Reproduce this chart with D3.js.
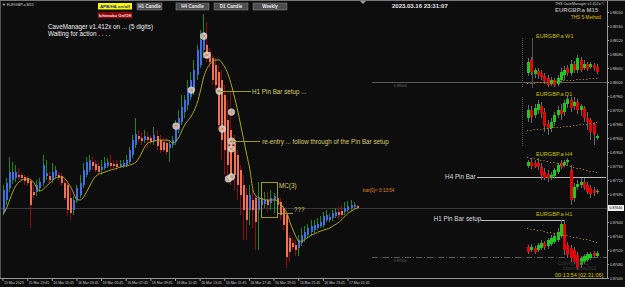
<!DOCTYPE html>
<html>
<head>
<meta charset="utf-8">
<script src="https://cdn.jsdelivr.net/npm/d3@7"></script>
<style>
  body { margin: 0; background: #0d0d0d; }
  svg { display: block; font-family: "Liberation Sans", Arial, sans-serif; }
</style>
</head>
<body>
<svg id="chart" width="625" height="287"></svg>
<script>
// ---- main chart data (EURGBP.a M15, one entry per bar) ----
var timeLabels = ["15 Mar 2023", "15 Mar 23:45", "16 Mar 01:45", "16 Mar 03:45", "16 Mar 05:45",
    "16 Mar 07:45", "16 Mar 09:45", "16 Mar 11:45", "16 Mar 13:45", "16 Mar 15:45",
    "16 Mar 17:45", "16 Mar 19:45", "16 Mar 21:45", "16 Mar 23:45", "17 Mar 01:45"];
var timeLabelBars = [0, 8, 16, 24, 32, 40, 48, 56, 64, 72, 80, 88, 96, 104, 112];

var priceTicks = [0.88200, 0.88160, 0.88120, 0.88080, 0.88040, 0.88000, 0.87960, 0.87920, 0.87880,
    0.87840, 0.87800, 0.87760, 0.87720, 0.87680, 0.87600, 0.87560, 0.87520, 0.87480, 0.87440];
var bidPrice = 0.87640;

var opens = [0.87629, 0.87663, 0.87697, 0.87720, 0.87726, 0.87734, 0.87734, 0.87729, 0.87726, 0.87717,
    0.87686, 0.87686, 0.87697, 0.87711, 0.87731, 0.87731, 0.87720, 0.87731, 0.87734, 0.87731,
    0.87711, 0.87706, 0.87669, 0.87634, 0.87663, 0.87677, 0.87706, 0.87734, 0.87749, 0.87771,
    0.87766, 0.87760, 0.87749, 0.87754, 0.87760, 0.87769, 0.87766, 0.87766, 0.87760, 0.87760,
    0.87763, 0.87771, 0.87791, 0.87820, 0.87846, 0.87840, 0.87834, 0.87843, 0.87840, 0.87831,
    0.87846, 0.87834, 0.87829, 0.87826, 0.87811, 0.87820, 0.87829, 0.87863, 0.87886, 0.87914,
    0.87934, 0.87957, 0.87977, 0.88020, 0.88049, 0.88091, 0.88106, 0.88086, 0.88069, 0.88049,
    0.88029, 0.88006, 0.87963, 0.87891, 0.87863, 0.87834, 0.87791, 0.87749, 0.87706, 0.87677,
    0.87634, 0.87663, 0.87669, 0.87634, 0.87649, 0.87651, 0.87663, 0.87654, 0.87663, 0.87669,
    0.87657, 0.87640, 0.87620, 0.87554, 0.87540, 0.87534, 0.87526, 0.87540, 0.87554, 0.87563,
    0.87571, 0.87577, 0.87583, 0.87589, 0.87591, 0.87606, 0.87606, 0.87611, 0.87617, 0.87629,
    0.87631, 0.87629, 0.87634, 0.87640, 0.87643, 0.87646];
var highs = [0.87706, 0.87726, 0.87786, 0.87771, 0.87763, 0.87754, 0.87740, 0.87734, 0.87731, 0.87720,
    0.87706, 0.87720, 0.87726, 0.87791, 0.87777, 0.87743, 0.87769, 0.87760, 0.87743, 0.87740,
    0.87720, 0.87711, 0.87691, 0.87674, 0.87706, 0.87734, 0.87769, 0.87786, 0.87791, 0.87786,
    0.87777, 0.87771, 0.87777, 0.87786, 0.87783, 0.87791, 0.87777, 0.87777, 0.87777, 0.87777,
    0.87791, 0.87814, 0.87849, 0.87897, 0.87863, 0.87854, 0.87863, 0.87857, 0.87849, 0.87871,
    0.87863, 0.87849, 0.87840, 0.87840, 0.87834, 0.87846, 0.87891, 0.87920, 0.87963, 0.87963,
    0.88006, 0.88029, 0.88063, 0.88106, 0.88149, 0.88194, 0.88171, 0.88097, 0.88077, 0.88069,
    0.88049, 0.88034, 0.87991, 0.87949, 0.87977, 0.87849, 0.87806, 0.87763, 0.87734, 0.87697,
    0.87706, 0.87691, 0.87677, 0.87714, 0.87706, 0.87686, 0.87686, 0.87691, 0.87683, 0.87677,
    0.87669, 0.87649, 0.87629, 0.87563, 0.87554, 0.87549, 0.87563, 0.87583, 0.87589, 0.87594,
    0.87606, 0.87606, 0.87611, 0.87617, 0.87629, 0.87634, 0.87623, 0.87634, 0.87640, 0.87643,
    0.87649, 0.87657, 0.87660, 0.87663, 0.87657, 0.87649];
var lows = [0.87620, 0.87649, 0.87686, 0.87709, 0.87714, 0.87720, 0.87717, 0.87706, 0.87703, 0.87583,
    0.87669, 0.87674, 0.87686, 0.87703, 0.87720, 0.87711, 0.87711, 0.87726, 0.87720, 0.87703,
    0.87663, 0.87617, 0.87606, 0.87620, 0.87654, 0.87669, 0.87697, 0.87729, 0.87743, 0.87749,
    0.87743, 0.87734, 0.87734, 0.87749, 0.87754, 0.87751, 0.87754, 0.87749, 0.87754, 0.87754,
    0.87757, 0.87766, 0.87783, 0.87811, 0.87829, 0.87820, 0.87826, 0.87811, 0.87820, 0.87820,
    0.87806, 0.87797, 0.87800, 0.87791, 0.87771, 0.87811, 0.87820, 0.87854, 0.87877, 0.87897,
    0.87920, 0.87949, 0.87963, 0.88006, 0.88040, 0.88069, 0.88057, 0.88040, 0.87991, 0.87977,
    0.87863, 0.87777, 0.87734, 0.87720, 0.87706, 0.87691, 0.87663, 0.87620, 0.87549, 0.87549,
    0.87591, 0.87583, 0.87520, 0.87520, 0.87634, 0.87640, 0.87629, 0.87634, 0.87626, 0.87634,
    0.87606, 0.87577, 0.87469, 0.87486, 0.87520, 0.87503, 0.87503, 0.87531, 0.87543, 0.87554,
    0.87560, 0.87569, 0.87577, 0.87583, 0.87583, 0.87600, 0.87600, 0.87603, 0.87611, 0.87609,
    0.87611, 0.87620, 0.87629, 0.87631, 0.87637, 0.87634];
var closes = [0.87691, 0.87711, 0.87743, 0.87743, 0.87743, 0.87729, 0.87726, 0.87717, 0.87711, 0.87649,
    0.87677, 0.87706, 0.87714, 0.87763, 0.87740, 0.87720, 0.87743, 0.87749, 0.87726, 0.87711,
    0.87669, 0.87634, 0.87626, 0.87663, 0.87697, 0.87711, 0.87749, 0.87771, 0.87777, 0.87760,
    0.87749, 0.87743, 0.87757, 0.87769, 0.87771, 0.87760, 0.87760, 0.87757, 0.87766, 0.87769,
    0.87777, 0.87806, 0.87834, 0.87851, 0.87837, 0.87831, 0.87846, 0.87834, 0.87829, 0.87849,
    0.87817, 0.87806, 0.87806, 0.87800, 0.87823, 0.87834, 0.87877, 0.87897, 0.87929, 0.87949,
    0.87983, 0.88006, 0.88034, 0.88091, 0.88120, 0.88143, 0.88069, 0.88057, 0.88006, 0.87991,
    0.87877, 0.87834, 0.87806, 0.87763, 0.87734, 0.87734, 0.87706, 0.87677, 0.87634, 0.87606,
    0.87677, 0.87634, 0.87600, 0.87669, 0.87669, 0.87663, 0.87649, 0.87669, 0.87674, 0.87649,
    0.87620, 0.87591, 0.87500, 0.87514, 0.87529, 0.87520, 0.87549, 0.87563, 0.87571, 0.87583,
    0.87589, 0.87591, 0.87594, 0.87600, 0.87617, 0.87620, 0.87614, 0.87626, 0.87629, 0.87620,
    0.87620, 0.87640, 0.87646, 0.87649, 0.87649, 0.87640];
var maValues = [0.87623, 0.87640, 0.87663, 0.87686, 0.87703, 0.87714, 0.87720, 0.87723, 0.87723, 0.87720,
    0.87711, 0.87694, 0.87689, 0.87694, 0.87703, 0.87711, 0.87720, 0.87726, 0.87729, 0.87729,
    0.87723, 0.87711, 0.87697, 0.87677, 0.87663, 0.87663, 0.87671, 0.87686, 0.87703, 0.87720,
    0.87731, 0.87737, 0.87740, 0.87743, 0.87746, 0.87749, 0.87751, 0.87754, 0.87757, 0.87760,
    0.87760, 0.87763, 0.87766, 0.87771, 0.87783, 0.87800, 0.87817, 0.87826, 0.87829, 0.87831,
    0.87834, 0.87834, 0.87834, 0.87834, 0.87831, 0.87826, 0.87831, 0.87843, 0.87863, 0.87880,
    0.87891, 0.87903, 0.87920, 0.87943, 0.87977, 0.88014, 0.88037, 0.88051, 0.88060, 0.88063,
    0.88063, 0.88054, 0.88040, 0.88020, 0.87991, 0.87957, 0.87920, 0.87877, 0.87834, 0.87791,
    0.87749, 0.87691, 0.87674, 0.87669, 0.87666, 0.87663, 0.87663, 0.87663, 0.87663, 0.87660,
    0.87651, 0.87640, 0.87626, 0.87600, 0.87577, 0.87557, 0.87543, 0.87546, 0.87551, 0.87557,
    0.87563, 0.87566, 0.87571, 0.87574, 0.87577, 0.87580, 0.87583, 0.87589, 0.87594, 0.87600,
    0.87609, 0.87617, 0.87626, 0.87631, 0.87637, 0.87640];

// signal circles: bar index and price
var signalBars = [56, 61, 65, 66, 70, 71, 74, 74, 74, 73, 74];
var signalPrices = [0.87874, 0.87977, 0.88131, 0.88077, 0.87974, 0.87866, 0.87914, 0.87831, 0.87809, 0.87723, 0.87729];

// ---- mini charts (points above each panel floor): [open, high, low, close] ----
var miniTitles = ["EURGBP.a W1", "EURGBP.a D1", "EURGBP.a H4", "EURGBP.a H1"];
var w1Bars = [[17,32,14,28],[30,33,15,18],[16,22,12,20],[19,22,11,15],[17,20,10,13],[14,17,6,9],[12,15,3,5],
    [6,13,4,10],[10,12,3,5],[6,15,4,12],[10,22,7,18],[15,24,10,20],[22,25,14,17],[17,30,14,26],[26,29,17,20],
    [20,35,17,32],[30,33,18,20],[22,30,20,26],[26,28,19,21],[23,28,21,26],[25,27,19,22],[23,26,16,18]];
var d1Bars = [[27,40,23,35],[35,39,22,28],[30,41,27,37],[35,45,31,41],[39,43,27,32],[33,37,13,19],[21,25,10,17],
    [17,27,13,23],[23,33,19,30],[30,39,27,35],[35,41,25,31],[33,45,29,42],[41,49,37,46],[45,48,33,37],[39,48,35,43],
    [43,46,31,35],[35,41,29,39],[37,39,23,27],[27,33,15,23],[25,27,5,13],[21,23,0,11],[7,11,5,9]];
var h4Bars = [[39,45,37,43],[43,47,36,39],[42,45,37,38],[42,47,35,39],[38,42,25,30],[33,37,25,27],[31,35,23,27],
    [27,33,25,30],[29,37,27,35],[33,42,31,40],[42,45,36,38],[40,45,38,43],[43,47,39,45],[35,40,0,5],[7,22,3,18],
    [18,25,15,21],[20,27,17,23],[23,27,15,17],[20,23,11,13],[17,20,7,11],[15,18,9,12],[13,16,11,14]];
var h1Bars = [[23,25,16,18],[20,26,18,23],[22,24,16,18],[20,27,18,25],[22,30,20,27],[27,29,20,23],[24,32,21,30],
    [26,35,24,32],[28,37,26,34],[30,42,28,38],[34,50,32,46],[46,50,15,20],[25,28,12,15],[22,25,8,12],[20,23,6,8],
    [15,18,0,2],[5,14,2,12],[8,16,6,14],[10,18,8,16],[12,18,10,16],[17,19,12,14],[14,19,12,17]];
var w1Ma = [7,7,7,8,8,8,8,9,9,9,9,10,10,10,10,11,11,11,11,12,12,12];
var d1Ma = [15,15,16,16,16,17,17,17,18,18,18,19,19,19,20,20,21,21,21,22,22,23];
var h4Ma = [48,47,47,46,45,45,44,43,43,42,41,40,40,39,38,37,37,36,35,34,34,33];
var h1Ma = [42,41,41,40,40,39,38,38,37,37,36,35,35,34,33,33,32,31,31,30,29,28];

var headerButtons = ["H1 Candle", "H4 Candle", "D1 Candle", "Weekly"];

// ---------------------------------------------------------------
var svg = d3.select("#chart");
var W = 625, H = 287, axisX = 607, axisY = 278;

svg.append("rect").attr("width", W).attr("height", H).attr("fill", "#0d0d0d");

var x = d3.scaleLinear().domain([0, 196]).range([2.5, 606.2]);
var y = d3.scaleLinear().domain([0.88000, 0.87500]).range([82, 257]);

var main = svg.append("g").attr("shape-rendering", "crispEdges");

// bid line
main.append("line")
    .attr("x1", 1).attr("x2", axisX)
    .attr("y1", Math.round(y(bidPrice)) + 0.5).attr("y2", Math.round(y(bidPrice)) + 0.5)
    .attr("stroke", "#3a3a3a");

// round-number levels
var levels = [{ p: 0.88000, dash: null, label: "0.88000" }, { p: 0.87500, dash: "6,2,1,2", label: "0.87500" }];
levels.forEach(function (lv) {
    main.append("line")
        .attr("x1", x(120)).attr("x2", axisX)
        .attr("y1", Math.round(y(lv.p)) + 0.5).attr("y2", Math.round(y(lv.p)) + 0.5)
        .attr("stroke", "#5a5a5a")
        .attr("stroke-dasharray", lv.dash);
    svg.append("text")
        .attr("x", x(127)).attr("y", y(lv.p) + 5)
        .attr("font-size", 3.6).attr("fill", "#6a6a6a")
        .text(lv.label);
});

var bars = d3.range(opens.length).map(function (i) {
    return { i: i, o: opens[i], h: highs[i], l: lows[i], c: closes[i] };
});

// wicks
main.selectAll("line.wick")
    .data(bars)
    .enter()
    .append("line")
    .attr("class", "wick")
    .attr("x1", function (d) { return Math.round(x(d.i)) + 0.5; })
    .attr("x2", function (d) { return Math.round(x(d.i)) + 0.5; })
    .attr("y1", function (d) { return y(d.h); })
    .attr("y2", function (d) { return y(d.l); })
    .attr("stroke", function (d) { return d.c >= d.o ? "#1c8a1c" : "#8a1010"; });

// bodies
main.selectAll("rect.body")
    .data(bars)
    .enter()
    .append("rect")
    .attr("class", "body")
    .attr("x", function (d) { return Math.round(x(d.i)); })
    .attr("width", 2)
    .attr("y", function (d) { return y(Math.max(d.o, d.c)); })
    .attr("height", function (d) { return Math.max(1, Math.abs(y(d.o) - y(d.c))); })
    .attr("fill", function (d) { return d.c >= d.o ? "#3f6fe0" : "#f47150"; });

// moving average
var maLine = d3.line()
    .x(function (d, i) { return x(i) + 1; })
    .y(function (d) { return y(d); })
    .curve(d3.curveMonotoneX);
svg.append("path")
    .datum(maValues)
    .attr("d", maLine)
    .attr("fill", "none")
    .attr("stroke", "#a9a520")
    .attr("stroke-width", 1);

// signal circles
var sig = svg.selectAll("g.sig")
    .data(signalBars.map(function (b, k) { return { b: b, p: signalPrices[k] }; }))
    .enter()
    .append("g")
    .attr("transform", function (d) { return "translate(" + (x(d.b) + 1) + "," + y(d.p) + ")"; });
sig.append("circle").attr("r", 3.6).attr("fill", "#d8d8d8").attr("fill-opacity", 0.85);
sig.append("circle").attr("r", 1.3).attr("fill", "#e8903a");

// annotations on the main chart
var noteColor = "#d8d070";
function hLine(b1, b2, p, color, dash) {
    svg.append("line")
        .attr("x1", x(b1)).attr("x2", x(b2))
        .attr("y1", Math.round(y(p)) + 0.5).attr("y2", Math.round(y(p)) + 0.5)
        .attr("stroke", color).attr("stroke-dasharray", dash || null)
        .attr("shape-rendering", "crispEdges");
}
function note(b, p, txt, color, size) {
    svg.append("text")
        .attr("x", x(b)).attr("y", y(p))
        .attr("font-size", size).attr("fill", color)
        .text(txt);
}
hLine(70, 80.7, 0.87974, "#9a9a20");
note(81, 0.87966, "H1 Pin Bar setup ...", noteColor, 6.3);
hLine(74, 83.6, 0.87831, "#9a9a20");
note(84.3, 0.87823, "re-entry ... follow through of the Pin Bar setup", noteColor, 6.3);

// MC(3) box
svg.append("rect")
    .attr("x", x(84.2)).attr("y", y(0.87714))
    .attr("width", x(89.4) - x(84.2)).attr("height", y(0.87614) - y(0.87714))
    .attr("fill", "none").attr("stroke", "#a09a20")
    .attr("shape-rendering", "crispEdges");
note(89.8, 0.87697, "MC(3)", noteColor, 6.3);
hLine(89.4, 94.3, 0.87626, "#a09a20");
note(94.6, 0.87629, "???", noteColor, 6.3);

note(117, 0.87686, "bar(0)<  0:13:54", "#e08a20", 4.6);

// higher time frame pin bar levels
hLine(154, 196, 0.87729, "#bdbdbd");
note(143.7, 0.87723, "H4 Pin Bar", "#dcdcdc", 6.3);
hLine(155.4, 182.3, 0.87606, "#bdbdbd");
note(140, 0.87603, "H1 Pin Bar setup", "#dcdcdc", 6.3);

// ---- mini charts ----
var panels = [
    { title: miniTitles[0], bars: w1Bars, ma: w1Ma, floor: 90, titleY: 38 },
    { title: miniTitles[1], bars: d1Bars, ma: d1Ma, floor: 145, titleY: 96 },
    { title: miniTitles[2], bars: h4Bars, ma: h4Ma, floor: 205, titleY: 156 },
    { title: miniTitles[3], bars: h1Bars, ma: h1Ma, floor: 270, titleY: 216 }
];
var mx = d3.scaleLinear().domain([0, 21]).range([528, 597]);

// rulers on the left of the W1 and D1 panels
svg.append("line").attr("x1", 522.5).attr("x2", 522.5).attr("y1", 38).attr("y2", 88)
    .attr("stroke", "#555").attr("stroke-dasharray", "1,1");
svg.append("line").attr("x1", 522.5).attr("x2", 522.5).attr("y1", 97).attr("y2", 147)
    .attr("stroke", "#555").attr("stroke-dasharray", "1,1");
svg.append("line").attr("x1", 532.5).attr("x2", 532.5).attr("y1", 38).attr("y2", 88)
    .attr("stroke", "#555");

panels.forEach(function (pn) {
    var my = d3.scaleLinear().domain([0, 50]).range([pn.floor, pn.floor - 50]);
    var g = svg.append("g").attr("shape-rendering", "crispEdges");

    g.selectAll("line")
        .data(pn.bars)
        .enter()
        .append("line")
        .attr("x1", function (d, i) { return Math.round(mx(i)) + 0.5; })
        .attr("x2", function (d, i) { return Math.round(mx(i)) + 0.5; })
        .attr("y1", function (d) { return my(d[1]); })
        .attr("y2", function (d) { return my(d[2]); })
        .attr("stroke", "#6a6a6a");

    g.selectAll("rect")
        .data(pn.bars)
        .enter()
        .append("rect")
        .attr("x", function (d, i) { return Math.round(mx(i)) - 1; })
        .attr("width", 3)
        .attr("y", function (d) { return my(Math.max(d[0], d[3])); })
        .attr("height", function (d) { return Math.max(1, Math.abs(my(d[0]) - my(d[3]))); })
        .attr("fill", function (d) { return d[3] >= d[0] ? "#1ec81e" : "#e00000"; });

    svg.selectAll(null)
        .data(pn.ma)
        .enter()
        .append("rect")
        .attr("x", function (d, i) { return mx(i) - 1; })
        .attr("y", function (d) { return my(d); })
        .attr("width", 1.2).attr("height", 1)
        .attr("fill", "#b08a10");

    svg.append("text")
        .attr("x", 536).attr("y", pn.titleY)
        .attr("font-size", 5.6).attr("fill", "#c8c000")
        .text(pn.title);
});

// ---- axes ----
svg.append("line").attr("x1", axisX + 0.5).attr("x2", axisX + 0.5).attr("y1", 0).attr("y2", axisY)
    .attr("stroke", "#9a9a9a");
svg.append("line").attr("x1", 0).attr("x2", axisX).attr("y1", axisY + 0.5).attr("y2", axisY + 0.5)
    .attr("stroke", "#9a9a9a");
svg.append("line").attr("x1", 0.5).attr("x2", 0.5).attr("y1", 0).attr("y2", axisY)
    .attr("stroke", "#555");
svg.append("line").attr("x1", 0).attr("x2", W).attr("y1", 0.5).attr("y2", 0.5)
    .attr("stroke", "#777");

var yAxis = d3.axisRight(y)
    .tickValues(priceTicks)
    .tickFormat(d3.format(".5f"))
    .tickSize(2)
    .tickPadding(1);
var yg = svg.append("g")
    .attr("transform", "translate(" + axisX + ",0)")
    .call(yAxis);
yg.select(".domain").remove();
yg.selectAll("line").attr("stroke", "#9a9a9a");
yg.selectAll("text").attr("fill", "#cfcfcf").attr("font-size", 3.5)
    .attr("font-family", "'Liberation Sans', Arial, sans-serif");

// bid price box
svg.append("rect").attr("x", axisX + 1).attr("y", y(bidPrice) - 3).attr("width", 16).attr("height", 6)
    .attr("fill", "#f0f0f0");
svg.append("text").attr("x", axisX + 2.5).attr("y", y(bidPrice) + 1.4)
    .attr("font-size", 3.5).attr("fill", "#000").text(d3.format(".5f")(bidPrice));

var xAxis = d3.axisBottom(x)
    .tickValues(timeLabelBars)
    .tickFormat(function (d, i) { return timeLabels[i]; })
    .tickSize(3)
    .tickPadding(0.5);
var xg = svg.append("g")
    .attr("transform", "translate(0," + axisY + ")")
    .call(xAxis);
xg.select(".domain").remove();
xg.selectAll("line").attr("stroke", "#9a9a9a");
xg.selectAll("text").attr("fill", "#cfcfcf").attr("font-size", 3.5)
    .attr("text-anchor", "start").attr("dx", 1)
    .attr("font-family", "'Liberation Sans', Arial, sans-serif");

// ---- header ----
svg.append("path").attr("d", "M360,1 L366,1 L363,4 Z").attr("fill", "#9a9a9a");
svg.append("text").attr("x", 2).attr("y", 6).attr("font-size", 3.8).attr("fill", "#cfcfcf")
    .text("\u25BC EURGBP.a,M15");

svg.append("rect").attr("x", 98).attr("y", 3).attr("width", 34).attr("height", 6.5).attr("fill", "#ffff00");
svg.append("text").attr("x", 115).attr("y", 8).attr("text-anchor", "middle")
    .attr("font-size", 4.4).attr("font-weight", "bold").attr("fill", "#1a1aa0").text("APB/HA on/off");
svg.append("rect").attr("x", 98).attr("y", 12).attr("width", 34).attr("height", 6.5).attr("fill", "#8a0000");
svg.append("text").attr("x", 115).attr("y", 17).attr("text-anchor", "middle")
    .attr("font-size", 4.2).attr("font-weight", "bold").attr("fill", "#f0f0f0").text("Ichimoku On/Off");

var btnX = [137, 176, 214, 253];
var btnW = [25, 33, 34, 34];
headerButtons.forEach(function (t, k) {
    svg.append("rect").attr("x", btnX[k]).attr("y", 3).attr("width", btnW[k]).attr("height", 7)
        .attr("fill", "#4e4e4e").attr("stroke", "#8a8a8a").attr("stroke-width", 0.5);
    svg.append("text").attr("x", btnX[k] + btnW[k] / 2).attr("y", 8.2).attr("text-anchor", "middle")
        .attr("font-size", 4.6).attr("font-weight", "bold").attr("fill", "#e8e8e8").text(t);
});

svg.append("text").attr("x", 48).attr("y", 29).attr("font-size", 6.3).attr("fill", "#f0f0f0")
    .text("CaveManager v1.412x on ...  (5 digits)");
svg.append("text").attr("x", 48).attr("y", 36).attr("font-size", 6.3).attr("fill", "#f0f0f0")
    .text("Waiting for action . . . .");

svg.append("text").attr("x", 392).attr("y", 8).attr("font-size", 6).attr("font-weight", "bold")
    .attr("fill", "#e8e8e8").text("2023.03.16 23:31:07");

svg.append("text").attr("x", 555).attr("y", 5).attr("font-size", 3.7).attr("fill", "#cfcfcf")
    .text("THS CaveManager v1.412x \u00A9");
svg.append("text").attr("x", 555).attr("y", 12).attr("font-size", 6).attr("font-weight", "bold")
    .attr("fill", "#a8a8a8").text("EURGBP.a M15");
svg.append("text").attr("x", 571).attr("y", 18.5).attr("font-size", 4.6).attr("fill", "#e0c000")
    .text("THS 5-Method");

// bottom right counters
svg.append("text").attr("x", 558).attr("y", 265).attr("font-size", 4.5).attr("fill", "#3a3a3a")
    .text("Copyright 2022");
svg.append("text").attr("x", 563).attr("y", 270).attr("font-size", 4.5).attr("fill", "#3a3a3a")
    .text("cavemanea2022");
svg.append("text").attr("x", 555).attr("y", 277).attr("font-size", 5.6).attr("fill", "#d8c800")
    .text("00:13:54 [02:31:06]");
</script>
</body>
</html>
